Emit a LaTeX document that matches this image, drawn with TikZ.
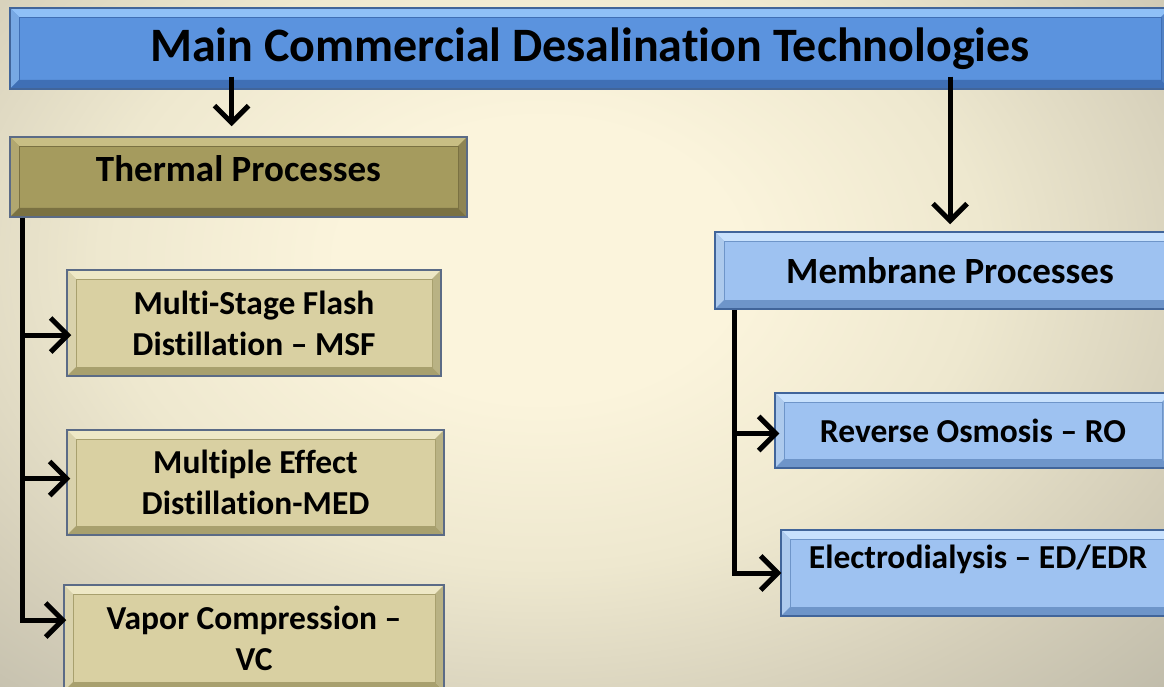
\documentclass[tikz,border=0pt]{standalone}
\usepackage{fontspec}
\setmainfont{Carlito}[Ligatures=NoCommon]
\usetikzlibrary{arrows.meta,calc}

\definecolor{bgin}{HTML}{FBF4DC}
\definecolor{bgmid}{HTML}{EEE8CF}
\definecolor{bgdark}{HTML}{D3CDB8}
\definecolor{bgedge}{HTML}{BEBAA9}
\definecolor{blueface}{HTML}{5B93DE}
\definecolor{bluelight}{HTML}{8FC0F7}
\definecolor{bluedark}{HTML}{3F6FB5}
\definecolor{blueline}{HTML}{41659A}
\definecolor{oliveface}{HTML}{A59B5E}
\definecolor{olivelight}{HTML}{C8BE84}
\definecolor{olivedark}{HTML}{7A7142}
\definecolor{khakiface}{HTML}{D9D0A2}
\definecolor{khakilight}{HTML}{EEE8C6}
\definecolor{khakidark}{HTML}{A8A06E}
\definecolor{skyface}{HTML}{9EC2F1}
\definecolor{skylight}{HTML}{C8E1FD}
\definecolor{skydark}{HTML}{6E95C9}
\definecolor{grayline}{HTML}{5B6B86}

% the 25bp radius is the rim of the shaded path
\pgfdeclareradialshading{deskbg}{\pgfpoint{0bp}{0bp}}{color(0bp)=(bgin); color(5bp)=(bgin); color(11bp)=(bgmid); color(17.5bp)=(bgdark); color(22.5bp)=(bgedge); color(50bp)=(bgedge)}

\begin{document}
\begin{tikzpicture}[
        x=1pt, y=-1pt,
        bevel/.style n args={4}{draw=#4, line width=1.5pt, fill=#1, inner sep=0pt, align=center,
            path picture={
                \coordinate (p1) at (path picture bounding box.north west);
                \coordinate (p2) at (path picture bounding box.north east);
                \coordinate (p3) at (path picture bounding box.south east);
                \coordinate (p4) at (path picture bounding box.south west);
                \coordinate (q1) at ($(p1)+(9pt,-9pt)$);
                \coordinate (q2) at ($(p2)+(-9pt,-9pt)$);
                \coordinate (q3) at ($(p3)+(-9pt,9pt)$);
                \coordinate (q4) at ($(p4)+(9pt,9pt)$);
                \fill[#2] (p1) -- (p2) -- (q2) -- (q1) -- cycle;
                \fill[#2!70!#3] (p1) -- (q1) -- (q4) -- (p4) -- cycle;
                \fill[#3] (p4) -- (q4) -- (q3) -- (p3) -- cycle;
                \fill[#3!75!#2] (p2) -- (p3) -- (q3) -- (q2) -- cycle;
                \draw[#3, line width=.6pt] (q1) rectangle (q3);
            }},
        titlebox/.style = {bevel={blueface}{bluelight}{bluedark}{blueline},
            font=\fontsize{48}{56}\selectfont\bfseries},
        thermbox/.style = {bevel={oliveface}{olivelight}{olivedark}{grayline},
            font=\fontsize{37}{44}\selectfont\bfseries},
        membox/.style = {bevel={skyface}{skylight}{skydark}{blueline},
            font=\fontsize{37}{44}\selectfont\bfseries},
        tsub/.style = {bevel={khakiface}{khakilight}{khakidark}{grayline},
            font=\fontsize{33.5}{41}\selectfont\bfseries},
        msub/.style = {bevel={skyface}{skylight}{skydark}{blueline},
            font=\fontsize{33.5}{41}\selectfont\bfseries},
        arr/.style = {line width=5pt, -{Straight Barb[length=17pt,width=34pt]}}
    ]
    \useasboundingbox (0,0) rectangle (1164,687);
    % background
    \begin{scope}
        \clip (0,0) rectangle (1164,687);
        \shade[shading=deskbg] (540,260) ellipse [x radius=1000pt, y radius=700pt];
    \end{scope}

    % boxes
    \node[titlebox, minimum width=1160pt, minimum height=81pt] (title) at (590,48.5) {Main Commercial Desalination Technologies};
    \node[thermbox, minimum width=457pt, minimum height=80pt, text depth=17pt] (thermal) at (238.5,177) {Thermal Processes};
    \node[tsub, minimum width=374pt, minimum height=106pt] (msf) at (254,323) {Multi-Stage Flash\\Distillation -- MSF};
    \node[tsub, minimum width=377pt, minimum height=105pt] (med) at (255.5,482.5) {Multiple Effect\\Distillation-MED};
    \node[tsub, minimum width=380pt, minimum height=106pt] (vc) at (254,638) {Vapor Compression --\\VC};
    \node[membox, minimum width=470pt, minimum height=77pt] (membrane) at (950,270.5) {Membrane Processes};
    \node[msub, minimum width=396pt, minimum height=75pt] (ro) at (973,430.5) {Reverse Osmosis -- RO};
    \node[msub, minimum width=394pt, minimum height=86pt, text depth=32pt] (ed) at (978,573) {Electrodialysis -- ED/EDR};

    % connectors
    \coordinate (tin) at ([xshift=-7pt]thermal.north);
    \draw[arr, shorten >=10pt] ($(title.south -| tin)+(0,13pt)$) -- (tin);
    \draw[arr, shorten >=7pt] ($(title.south -| membrane.north)+(0,13pt)$) -- (membrane.north);

    \coordinate (tbus) at ([xshift=13pt]thermal.south west);
    \coordinate (msfin) at ([yshift=-12pt]msf.west);
    \coordinate (medin) at ([yshift=4pt]med.west);
    \coordinate (vcin) at ([yshift=18pt]vc.west);
    \draw[arr, shorten >=-3pt] (tbus) |- (vcin);
    \draw[arr, shorten >=-5pt] (tbus |- msfin) -- (msfin);
    \draw[arr, shorten >=-4pt] (tbus |- medin) -- (medin);

    \coordinate (mbus) at ([xshift=20pt]membrane.south west);
    \coordinate (roin) at ([yshift=-3pt]ro.west);
    \draw[arr, shorten >=-1pt] (mbus) |- (ed.west);
    \draw[arr, shorten >=-5pt] (mbus |- roin) -- (roin);
\end{tikzpicture}
\end{document}
